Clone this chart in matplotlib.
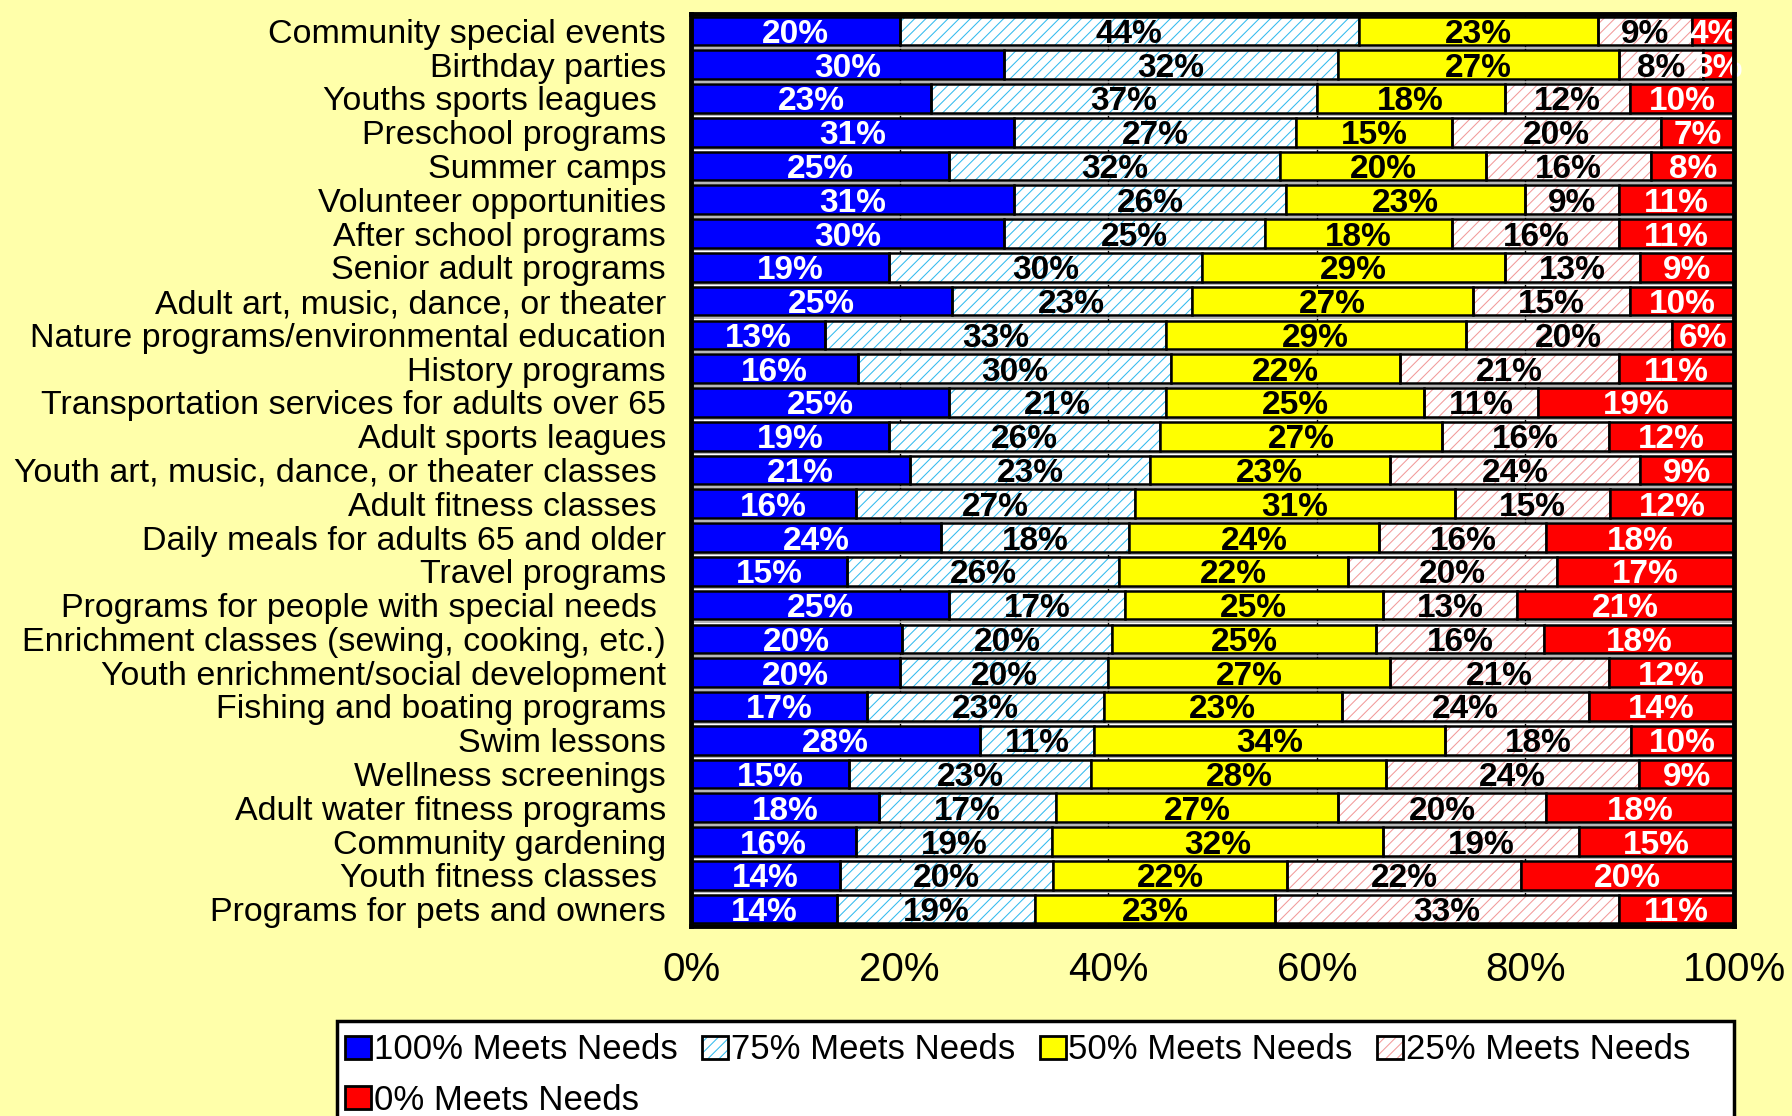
import matplotlib
matplotlib.use("Agg")
import matplotlib.pyplot as plt
from matplotlib.patches import Patch, Rectangle
from matplotlib.legend_handler import HandlerTuple
import numpy as np

plt.rcParams['font.family'] = ['Liberation Sans', 'DejaVu Sans']
plt.rcParams['hatch.linewidth'] = 0.75

categories = [
    "Community special events",
    "Birthday parties",
    "Youths sports leagues ",
    "Preschool programs",
    "Summer camps",
    "Volunteer opportunities",
    "After school programs",
    "Senior adult programs",
    "Adult art, music, dance, or theater",
    "Nature programs/environmental education",
    "History programs",
    "Transportation services for adults over 65",
    "Adult sports leagues",
    "Youth art, music, dance, or theater classes ",
    "Adult fitness classes ",
    "Daily meals for adults 65 and older",
    "Travel programs",
    "Programs for people with special needs ",
    "Enrichment classes (sewing, cooking, etc.)",
    "Youth enrichment/social development",
    "Fishing and boating programs",
    "Swim lessons",
    "Wellness screenings",
    "Adult water fitness programs",
    "Community gardening",
    "Youth fitness classes ",
    "Programs for pets and owners",
]

meets_100 = [20, 30, 23, 31, 25, 31, 30, 19, 25, 13, 16, 25, 19, 21, 16, 24, 15, 25, 20, 20, 17, 28, 15, 18, 16, 14, 14]
meets_75 = [44, 32, 37, 27, 32, 26, 25, 30, 23, 33, 30, 21, 26, 23, 27, 18, 26, 17, 20, 20, 23, 11, 23, 17, 19, 20, 19]
meets_50 = [23, 27, 18, 15, 20, 23, 18, 29, 27, 29, 22, 25, 27, 23, 31, 24, 22, 25, 25, 27, 23, 34, 28, 27, 32, 22, 23]
meets_25 = [9, 8, 12, 20, 16, 9, 16, 13, 15, 20, 21, 11, 16, 24, 15, 16, 20, 13, 16, 21, 24, 18, 24, 20, 19, 22, 33]
meets_0 = [4, 3, 10, 7, 8, 11, 11, 9, 10, 6, 11, 19, 12, 9, 12, 18, 17, 21, 18, 12, 14, 10, 9, 18, 15, 20, 11]

series_names = ["100% Meets Needs", "75% Meets Needs", "50% Meets Needs",
                "25% Meets Needs", "0% Meets Needs"]
x_ticks = [0, 20, 40, 60, 80, 100]
x_tick_labels = ["0%", "20%", "40%", "60%", "80%", "100%"]

face_colors = ["#0000FF", "white", "#FFFF00", "white", "#FF0000"]
hatch_colors = [None, "#33BBEE", None, "#F29A9A", None]
hatches = [None, "///", None, "///", None]
text_colors = ["white", "black", "black", "black", "white"]

bg = "#FFFFAA"
W, H = 1792, 1116
fig = plt.figure(figsize=(W / 100, H / 100), dpi=100, facecolor=bg)
ax = fig.add_axes([691 / W, 1 - 926 / H, (1734 - 691) / W, (926 - 14) / H])
ax.set_facecolor("white")

data = np.array([meets_100, meets_75, meets_50, meets_25, meets_0], dtype=float)
totals = data.sum(axis=0)
pct = data / totals * 100
n = len(categories)
y = np.arange(n)
bar_h = 0.85

# row separators
for b in np.arange(n + 1) - 0.5:
    ax.axhline(b, color="#B0B0B0", lw=1.3, zorder=0.5)
for t in x_ticks[1:-1]:
    ax.axvline(t, color="black", lw=1.0, zorder=0.4)

left = np.zeros(n)
for i in range(5):
    w = pct[i]
    if hatches[i]:
        ax.barh(y, w, left=left, height=bar_h, color=face_colors[i],
                hatch=hatches[i], edgecolor=hatch_colors[i], linewidth=0, zorder=2)
        ax.barh(y, w, left=left, height=bar_h, fill=False,
                edgecolor="black", linewidth=1.8, zorder=3)
    else:
        ax.barh(y, w, left=left, height=bar_h, color=face_colors[i],
                edgecolor="black", linewidth=1.8, zorder=3)
    for j in range(n):
        ax.text(left[j] + w[j] / 2, y[j], f"{int(data[i, j])}%",
                ha="center", va="center_baseline", fontsize=24, fontweight="bold",
                color=text_colors[i], zorder=5, clip_on=False)
    left += w

ax.set_xlim(0, 100)
ax.set_ylim(n - 0.5, -0.5)
ax.set_yticks(y)
ax.set_yticklabels(categories, fontsize=24.5)
ax.set_xticks(x_ticks)
ax.set_xticklabels(x_tick_labels, fontsize=29)
ax.tick_params(axis="both", length=0)
ax.tick_params(axis="x", pad=18)
ax.tick_params(axis="y", pad=18)
for s in ax.spines.values():
    s.set_linewidth(3.5)
    s.set_color("black")
    s.set_zorder(6)

# legend frame (wider than its content, running off the bottom)
fig.patches.append(Rectangle((337 / W, -0.05), (1734 - 337) / W, 0.05 + (1116 - 1021) / H,
                             transform=fig.transFigure, facecolor="white",
                             edgecolor="black", linewidth=2.5, zorder=0))

handles = []
for i in range(5):
    if hatches[i]:
        handles.append((Patch(facecolor="white", edgecolor=hatch_colors[i],
                              hatch=hatches[i], linewidth=0),
                        Patch(fill=False, edgecolor="black", linewidth=2.0)))
    else:
        handles.append(Patch(facecolor=face_colors[i], edgecolor="black", linewidth=2.0))

order = [0, 4, 1, 2, 3]
leg = fig.legend([handles[k] for k in order], [series_names[k] for k in order],
                 loc="upper left", bbox_to_anchor=(335 / W, 1 - 1023 / H),
                 ncol=4, fontsize=25.0, frameon=False,
                 handlelength=0.75, handleheight=0.65, handletextpad=0.08,
                 borderaxespad=0, labelspacing=0.5, borderpad=0.3, columnspacing=0.7,
                 handler_map={tuple: HandlerTuple(ndivide=1, pad=0)})

fig.savefig("out.png", dpi=100, facecolor=bg)
